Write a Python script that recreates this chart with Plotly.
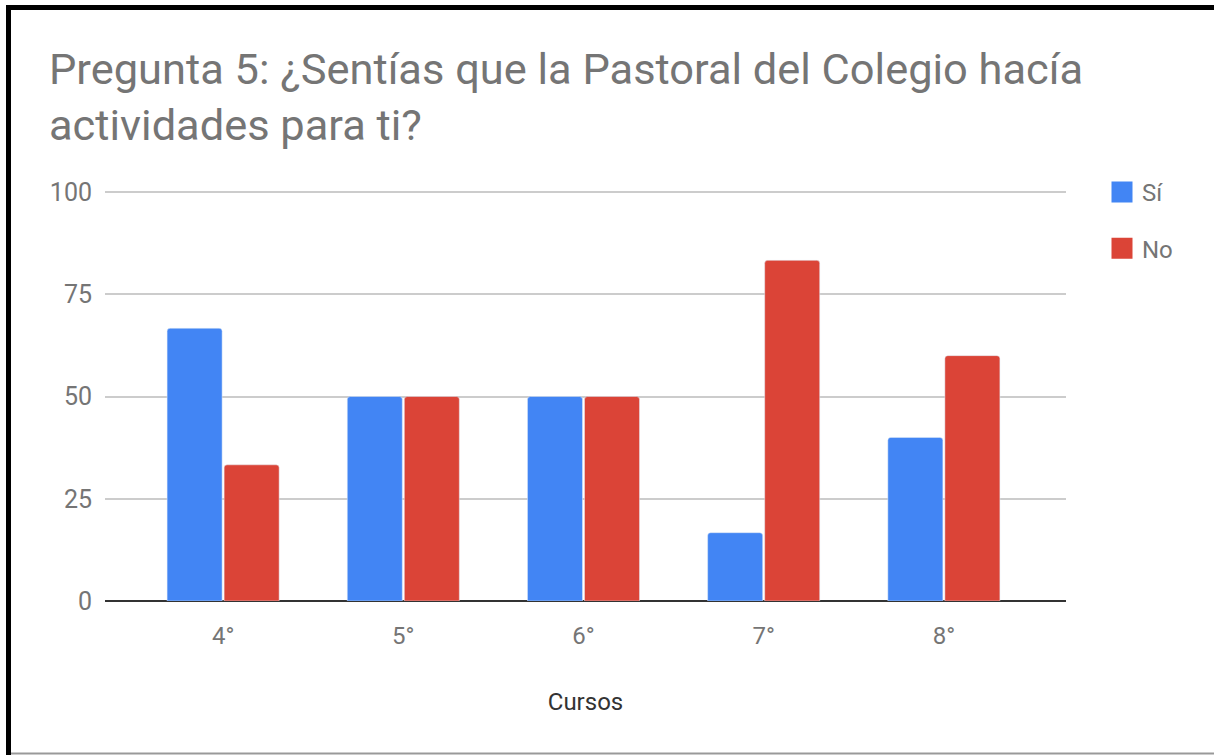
import plotly.graph_objects as go

cursos = ["4°", "5°", "6°", "7°", "8°"]
si_vals = [66.7, 50, 50, 16.7, 40]
no_vals = [33.3, 50, 50, 83.3, 60]
y_ticks = [0, 25, 50, 75, 100]

BLUE = "#4285F4"
RED = "#DB4437"
FONT = "Roboto, Arial, sans-serif"

W, H = 1214, 755
L, R, T, B = 105, 148, 190, 154
PW, PH = W - L - R, H - T - B


def px(xp):
    return (xp - L) / PW


def py(yp):
    return (H - B - yp) / PH


fig = go.Figure()
fig.add_trace(go.Bar(x=cursos, y=si_vals, name="Sí", marker_color=BLUE, showlegend=False))
fig.add_trace(go.Bar(x=cursos, y=no_vals, name="No", marker_color=RED, showlegend=False))
# legend entries with larger swatches
fig.add_trace(go.Scatter(x=[None], y=[None], mode="markers", name="Sí", legendgroup="a",
                         marker=dict(symbol="square", size=16, color=BLUE, line=dict(color=BLUE, width=5))))
fig.add_trace(go.Scatter(x=[None], y=[None], mode="markers", name="No", legendgroup="b",
                         marker=dict(symbol="square", size=16, color=RED, line=dict(color=RED, width=5))))

shapes = [
    # frame of the screenshot
    dict(type="rect", xref="paper", yref="paper", x0=px(6), x1=px(1214), y0=py(5), y1=py(10),
         fillcolor="black", line_width=0, layer="above"),
    dict(type="rect", xref="paper", yref="paper", x0=px(6), x1=px(11), y0=py(5), y1=py(755),
         fillcolor="black", line_width=0, layer="above"),
    dict(type="line", xref="paper", yref="paper", x0=px(11), x1=px(1214), y0=py(753.5), y1=py(753.5),
         line=dict(color="#999999", width=2), layer="above"),
]

fig.update_layout(
    width=W, height=H,
    margin=dict(l=L, r=R, t=T, b=B, autoexpand=False),
    paper_bgcolor="white", plot_bgcolor="white",
    font=dict(family=FONT, color="#757575", size=24),
    title=dict(text="Pregunta 5: ¿Sentías que la Pastoral del Colegio hacía<br>actividades para ti?",
               font=dict(family=FONT, size=43.4, color="#757575"),
               xref="container", yref="container", x=49 / W, xanchor="left",
               y=1 - 84 / H, yanchor="top"),
    barmode="group", bargap=0.367, bargroupgap=0.035, barcornerradius=3,
    xaxis=dict(range=[(L - 223) / 180, 4 + (L + PW - 944) / 180], showgrid=False,
               ticks="", ticklabelstandoff=18, tickfont=dict(size=24, color="#757575"),
               title=dict(text="Cursos", font=dict(size=24, color="#333333"), standoff=44),
               showline=False, zeroline=False),
    yaxis=dict(range=[0, 100.5], tickvals=y_ticks, showgrid=True, gridcolor="#CCCCCC", gridwidth=2,
               zeroline=True, zerolinecolor="#333333", zerolinewidth=2,
               ticks="", ticklabelstandoff=12, tickfont=dict(size=25, color="#757575"),
               showline=False),
    legend=dict(x=px(1102), xanchor="left", y=py(170), yanchor="top",
                font=dict(size=24, color="#757575"), tracegroupgap=22,
                bgcolor="rgba(0,0,0,0)"),
    shapes=shapes,
)

fig.write_html("out.html", config={"displayModeBar": False},
               post_script="document.body.style.margin='0';document.body.style.overflow='hidden';")
